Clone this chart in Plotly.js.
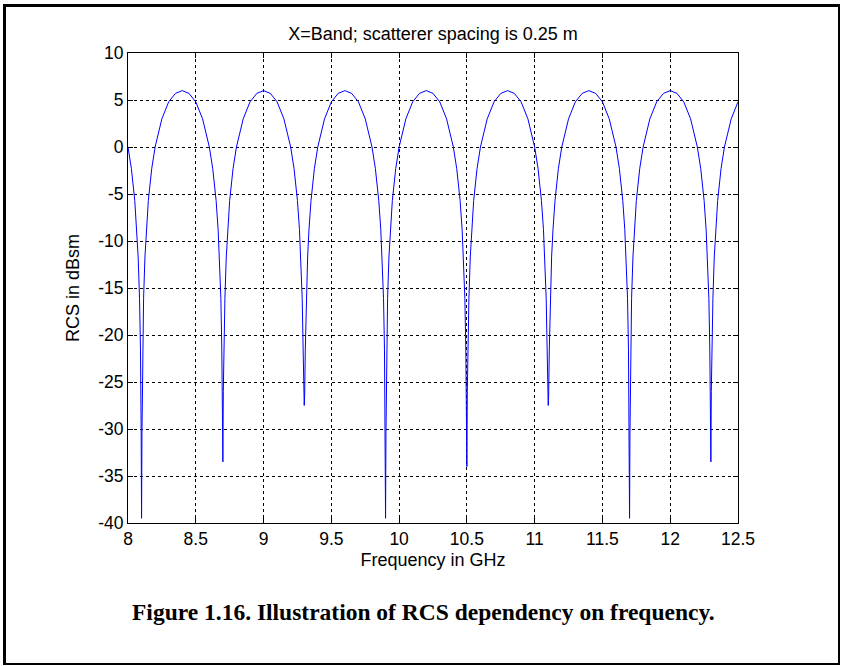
<!DOCTYPE html>
<html>
<head>
<meta charset="utf-8">
<script src="https://cdn.plot.ly/plotly-3.0.1.min.js"></script>
<style>
  html, body { margin: 0; padding: 0; background: #fff; }
  #wrap { position: relative; width: 841px; height: 666px; }
  #chart { position: absolute; left: 0; top: 0; width: 841px; height: 666px; }
  #frame { position: absolute; left: 3px; top: 4px; width: 837px; height: 661px;
           box-sizing: border-box; border-left: 3px solid #000; border-top: 3px solid #000;
           border-right: 2px solid #000; border-bottom: 2px solid #000; pointer-events: none; }
</style>
</head>
<body>
<div id="wrap">
  <div id="chart"></div>
  <div id="frame"></div>
</div>
<script>
// Frequency samples (GHz)
const freq = [
  8.0, 8.025, 8.05, 8.065, 8.075, 8.085, 8.092, 8.097, 8.1, 8.103, 8.108, 8.115, 8.125, 8.135, 8.15, 8.175, 8.2, 8.25, 8.3, 8.35, 8.4,
  8.45, 8.5, 8.55, 8.6, 8.625, 8.65, 8.665, 8.675, 8.685, 8.692, 8.697, 8.7, 8.703, 8.708, 8.715, 8.725, 8.735, 8.75, 8.775, 8.8, 8.85, 8.9, 8.95, 9.0,
  9.05, 9.1, 9.15, 9.2, 9.225, 9.25, 9.265, 9.275, 9.285, 9.292, 9.297, 9.3, 9.303, 9.308, 9.315, 9.325, 9.335, 9.35, 9.375, 9.4, 9.45, 9.5, 9.55, 9.6,
  9.65, 9.7, 9.75, 9.8, 9.825, 9.85, 9.865, 9.875, 9.885, 9.892, 9.897, 9.9, 9.903, 9.908, 9.915, 9.925, 9.935, 9.95, 9.975, 10.0, 10.05, 10.1, 10.15, 10.2,
  10.25, 10.3, 10.35, 10.4, 10.425, 10.45, 10.465, 10.475, 10.485, 10.492, 10.497, 10.5, 10.503, 10.508, 10.515, 10.525, 10.535, 10.55, 10.575, 10.6, 10.65, 10.7, 10.75, 10.8,
  10.85, 10.9, 10.95, 11.0, 11.025, 11.05, 11.065, 11.075, 11.085, 11.092, 11.097, 11.1, 11.103, 11.108, 11.115, 11.125, 11.135, 11.15, 11.175, 11.2, 11.25, 11.3, 11.35, 11.4,
  11.45, 11.5, 11.55, 11.6, 11.625, 11.65, 11.665, 11.675, 11.685, 11.692, 11.697, 11.7, 11.703, 11.708, 11.715, 11.725, 11.735, 11.75, 11.775, 11.8, 11.85, 11.9, 11.95, 12.0,
  12.05, 12.1, 12.15, 12.2, 12.225, 12.25, 12.265, 12.275, 12.285, 12.292, 12.297, 12.3, 12.303, 12.308, 12.315, 12.325, 12.335, 12.35, 12.375, 12.4, 12.45, 12.5
];
// RCS values (dBsm)
const rcs = [
  0.0, -2.3, -5.7, -8.8, -11.7, -16.1, -21.5, -30.0, -39.5, -30.5, -21.5, -16.1, -11.7, -8.8, -5.7, -2.3, 0.0, 3.0, 4.8, 5.7, 6.0,
  5.7, 4.8, 3.0, 0.0, -2.3, -5.7, -8.8, -11.7, -16.1, -21.5, -28.0, -33.5, -26.0, -21.5, -16.1, -11.7, -8.8, -5.7, -2.3, 0.0, 3.0, 4.8, 5.7, 6.0,
  5.7, 4.8, 3.0, 0.0, -2.3, -5.7, -8.8, -11.7, -16.1, -21.5, -24.5, -27.5, -26.5, -21.5, -16.1, -11.7, -8.8, -5.7, -2.3, 0.0, 3.0, 4.8, 5.7, 6.0,
  5.7, 4.8, 3.0, 0.0, -2.3, -5.7, -8.8, -11.7, -16.1, -21.5, -30.0, -39.5, -30.5, -21.5, -16.1, -11.7, -8.8, -5.7, -2.3, 0.0, 3.0, 4.8, 5.7, 6.0,
  5.7, 4.8, 3.0, 0.0, -2.3, -5.7, -8.8, -11.7, -16.1, -21.5, -28.0, -34.0, -26.0, -21.5, -16.1, -11.7, -8.8, -5.7, -2.3, 0.0, 3.0, 4.8, 5.7, 6.0,
  5.7, 4.8, 3.0, 0.0, -2.3, -5.7, -8.8, -11.7, -16.1, -21.5, -24.5, -27.5, -26.5, -21.5, -16.1, -11.7, -8.8, -5.7, -2.3, 0.0, 3.0, 4.8, 5.7, 6.0,
  5.7, 4.8, 3.0, 0.0, -2.3, -5.7, -8.8, -11.7, -16.1, -21.5, -30.0, -39.5, -30.5, -21.5, -16.1, -11.7, -8.8, -5.7, -2.3, 0.0, 3.0, 4.8, 5.7, 6.0,
  5.7, 4.8, 3.0, 0.0, -2.3, -5.7, -8.8, -11.7, -16.1, -21.5, -28.0, -33.5, -26.0, -21.5, -16.1, -11.7, -8.8, -5.7, -2.3, 0.0, 3.0, 4.8
];
const xTicks = [8, 8.5, 9, 9.5, 10, 10.5, 11, 11.5, 12, 12.5];
const xTickLabels = ['8', '8.5', '9', '9.5', '10', '10.5', '11', '11.5', '12', '12.5'];
const yTicks = [-40, -35, -30, -25, -20, -15, -10, -5, 0, 5, 10];
const yTickLabels = ['-40', '-35', '-30', '-25', '-20', '-15', '-10', '-5', '0', '5', '10'];

const sans = 'Arial, "Liberation Sans", Helvetica, sans-serif';
const axisCommon = {
  showline: true, linecolor: '#000', linewidth: 1, mirror: 'ticks',
  ticks: 'inside', ticklen: 5, tickcolor: '#000', tickwidth: 1,
  showgrid: true, gridcolor: '#000', gridwidth: 1, griddash: '3px,3px',
  zeroline: false, fixedrange: true,
  tickfont: { family: sans, size: 17.5, color: '#000' },
  tickmode: 'array'
};

const data = [{
  x: freq, y: rcs, type: 'scatter', mode: 'lines',
  line: { color: '#0000ff', width: 1 },
  hoverinfo: 'skip'
}];

const layout = {
  width: 841, height: 666,
  margin: { l: 128, r: 103, t: 53, b: 143 },
  paper_bgcolor: '#fff', plot_bgcolor: '#fff',
  showlegend: false,
  title: {
    text: 'X=Band; scatterer spacing is 0.25 m',
    font: { family: sans, size: 18, color: '#000' },
    xref: 'paper', x: 0.5, xanchor: 'center',
    yref: 'container', y: 1 - 34 / 666, yanchor: 'middle'
  },
  xaxis: Object.assign({}, axisCommon, {
    range: [8, 12.5], tickvals: xTicks, ticktext: xTickLabels,
    title: { text: 'Frequency in GHz', font: { family: sans, size: 18, color: '#000' }, standoff: 5 }
  }),
  yaxis: Object.assign({}, axisCommon, {
    range: [-40, 10], tickvals: yTicks, ticktext: yTickLabels,
    title: { text: 'RCS in dBsm', font: { family: sans, size: 18, color: '#000' }, standoff: 13 }
  }),
  annotations: [{
    text: '<b>Figure 1.16. Illustration of RCS dependency on frequency.</b>',
    xref: 'paper', yref: 'paper', x: 0.485, y: -0.189,
    xanchor: 'center', yanchor: 'middle', showarrow: false,
    font: { family: '"Times New Roman", "Liberation Serif", Times, serif', size: 23.5, color: '#000' }
  }]
};

Plotly.newPlot('chart', data, layout, { staticPlot: true, displayModeBar: false });
</script>
</body>
</html>
